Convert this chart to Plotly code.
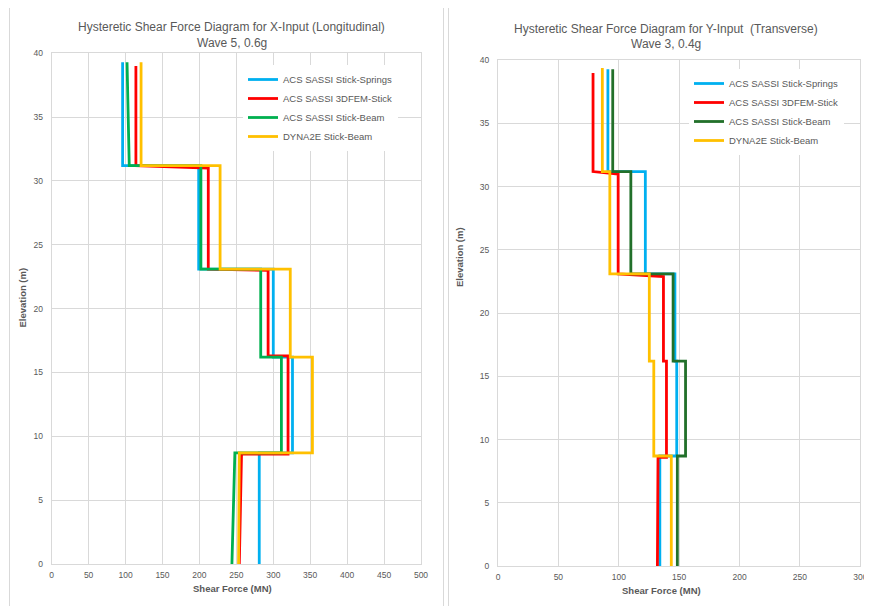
import plotly.graph_objects as go

# ---------------- Data ----------------
series_names = ["ACS SASSI Stick-Springs", "ACS SASSI 3DFEM-Stick",
                "ACS SASSI Stick-Beam", "DYNA2E Stick-Beam"]

# Left: X-Input (Longitudinal), Wave 5, 0.6g
x_springs_force = [281, 281, 326, 326, 300, 300, 199, 199, 96, 96]
x_springs_elev = [0, 8.7, 8.7, 16.2, 16.2, 23.1, 23.1, 31.2, 31.2, 39.3]
x_3dfem_force = [254, 257, 320, 320, 293, 293, 212, 212, 114, 114]
x_3dfem_elev = [0, 8.6, 8.6, 16.3, 16.3, 23.0, 23.1, 31.0, 31.2, 39.0]
x_beam_force = [244, 248, 311, 311, 283, 283, 202, 202, 105, 102]
x_beam_elev = [0, 8.7, 8.7, 16.2, 16.2, 23.1, 23.1, 31.2, 31.2, 39.3]
x_dyna_force = [253, 254, 353, 353, 323, 323, 228, 228, 121, 121]
x_dyna_elev = [0, 8.7, 8.7, 16.2, 16.2, 23.1, 23.1, 31.2, 31.2, 39.3]

# Right: Y-Input (Transverse), Wave 3, 0.4g
y_springs_force = [134, 134, 148, 148, 146.5, 146.5, 122, 122, 91, 91]
y_springs_elev = [0, 8.7, 8.7, 16.2, 16.2, 23.1, 23.1, 31.2, 31.2, 39.3]
y_3dfem_force = [132, 132.5, 139.5, 139.5, 137, 137, 99.5, 99.5, 78.7, 78.7]
y_3dfem_elev = [0, 8.6, 8.6, 16.2, 16.2, 22.9, 23.1, 31.0, 31.2, 39.0]
y_beam_force = [148.5, 148.5, 155.3, 155.3, 145, 145, 110, 110, 95, 95]
y_beam_elev = [0, 8.7, 8.7, 16.2, 16.2, 23.1, 23.1, 31.2, 31.2, 39.3]
y_dyna_force = [143.5, 143.5, 129, 129, 125.3, 125.3, 92.6, 92.6, 86.4, 86.4]
y_dyna_elev = [0, 8.7, 8.7, 16.2, 16.2, 23.1, 23.1, 31.2, 31.2, 39.4]

x_ticks_left = [0, 50, 100, 150, 200, 250, 300, 350, 400, 450, 500]
x_ticks_right = [0, 50, 100, 150, 200, 250, 300]
y_ticks = [0, 5, 10, 15, 20, 25, 30, 35, 40]

left_colors = ["#00B0F0", "#FF0000", "#00B050", "#FFC000"]
right_colors = ["#00B0F0", "#FF0000", "#22702A", "#FFC000"]

# ---------------- Figure ----------------
# The page body has an 8px default margin, so the figure is placed at (8, 8).
OFF = 8
W, H = 864, 598
FONT = "Liberation Sans, Arial, sans-serif"
GRID = "#D9D9D9"
TXT = "#595959"

def px(x):
    return (x - OFF) / W

def py(y):
    return 1 - (y - OFF) / H

fig = go.Figure()

left_data = [(x_springs_force, x_springs_elev), (x_3dfem_force, x_3dfem_elev),
             (x_beam_force, x_beam_elev), (x_dyna_force, x_dyna_elev)]
right_data = [(y_springs_force, y_springs_elev), (y_3dfem_force, y_3dfem_elev),
              (y_beam_force, y_beam_elev), (y_dyna_force, y_dyna_elev)]

for name, (xs, ys), c in zip(series_names, left_data, left_colors):
    fig.add_trace(go.Scatter(x=xs, y=ys, mode="lines", name=name,
                             line=dict(color=c, width=2.8),
                             xaxis="x", yaxis="y", legend="legend"))
for name, (xs, ys), c in zip(series_names, right_data, right_colors):
    fig.add_trace(go.Scatter(x=xs, y=ys, mode="lines", name=name,
                             line=dict(color=c, width=2.8),
                             xaxis="x2", yaxis="y2", legend="legend2"))

axis_common = dict(showgrid=True, gridcolor=GRID, gridwidth=1, zeroline=False,
                   showline=True, linecolor=GRID, linewidth=1, mirror=True,
                   ticks="", tickfont=dict(family=FONT, size=8.5, color=TXT),
                   automargin=False)

fig.update_layout(
    width=W, height=H,
    margin=dict(l=0, r=0, t=0, b=0),
    paper_bgcolor="white", plot_bgcolor="white",
    font=dict(family=FONT, color=TXT),
    xaxis=dict(domain=[px(51.7), px(421)], range=[0, 500], tickvals=x_ticks_left,
               anchor="y", ticklabelstandoff=3, **axis_common),
    yaxis=dict(domain=[py(564), py(53.3)], range=[0, 40], tickvals=y_ticks,
               anchor="x", ticklabelstandoff=6, **axis_common),
    xaxis2=dict(domain=[px(498), px(860.3)], range=[0, 300], tickvals=x_ticks_right,
                anchor="y2", ticklabelstandoff=3, **axis_common),
    yaxis2=dict(domain=[py(566), py(60.3)], range=[0, 40], tickvals=y_ticks,
                anchor="x2", ticklabelstandoff=6, **axis_common),
    legend=dict(x=px(243), y=py(65), xanchor="left", yanchor="top",
                bgcolor="white", borderwidth=0, itemwidth=30, tracegroupgap=0,
                font=dict(family=FONT, size=9.5, color=TXT)),
    legend2=dict(x=px(689), y=py(69), xanchor="left", yanchor="top",
                 bgcolor="white", borderwidth=0, itemwidth=30, tracegroupgap=0,
                 font=dict(family=FONT, size=9.5, color=TXT)),
    showlegend=True,
)

# Panel borders
fig.add_shape(type="rect", xref="paper", yref="paper",
              x0=px(9.5), x1=px(443.5), y0=py(620), y1=py(5.5),
              line=dict(color=GRID, width=1), fillcolor="rgba(0,0,0,0)", layer="below")
fig.add_shape(type="rect", xref="paper", yref="paper",
              x0=px(448.5), x1=px(890), y0=py(620), y1=py(5.5),
              line=dict(color=GRID, width=1), fillcolor="rgba(0,0,0,0)", layer="below")

def text(x, y, s, size, bold=False, angle=0):
    fig.add_annotation(x=px(x), y=py(y), xref="paper", yref="paper",
                       text=f"<b>{s}</b>" if bold else s, showarrow=False,
                       xanchor="center", yanchor="middle", textangle=angle,
                       font=dict(family=FONT, size=size, color=TXT))

# Titles
text(231.7, 26.7, "Hysteretic Shear Force Diagram for X-Input (Longitudinal)", 12)
text(231.7, 43.3, "Wave 5, 0.6g", 12)
text(666, 29, "Hysteretic Shear Force Diagram for Y-Input  (Transverse)", 12)
text(666, 44.3, "Wave 3, 0.4g", 12)

# Axis titles
text(232, 588, "Shear Force (MN)", 9.5, bold=True)
text(22, 297.5, "Elevation (m)", 9.5, bold=True, angle=-90)
text(661.7, 590.7, "Shear Force (MN)", 9.5, bold=True)
text(459.3, 256.7, "Elevation (m)", 9.5, bold=True, angle=-90)

fig.write_html("out.html")
